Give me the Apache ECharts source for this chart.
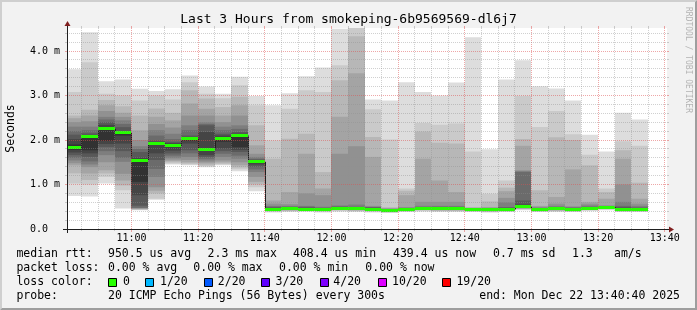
<!DOCTYPE html>
<html><head><meta charset="utf-8">
<script src="https://cdn.jsdelivr.net/npm/echarts@6/dist/echarts.min.js"></script>
<style>
html,body{margin:0;padding:0;background:#f2f2f2;overflow:hidden;}
#c{width:697px;height:310px;}
</style></head>
<body><div id="c"></div>
<script>
// ---------------- data ----------------
const titleText = 'Last 3 Hours from smokeping-6b9569569-dl6j7';
const viewStart = '10:40:40';
const viewEnd = '13:40:40';
const stepMinutes = 5;
const yMaxMs = 4.517;

const slots = ['10:40','10:45','10:50','10:55','11:00','11:05','11:10','11:15','11:20','11:25','11:30','11:35',
  '11:40','11:45','11:50','11:55','12:00','12:05','12:10','12:15','12:20','12:25','12:30','12:35',
  '12:40','12:45','12:50','12:55','13:00','13:05','13:10','13:15','13:20','13:25','13:30'];

// median rtt per slot (ms)
const median = [1.83,2.08,2.25,2.16,1.55,1.92,1.87,2.04,1.79,2.04,2.10,1.51,
  0.44,0.45,0.44,0.43,0.46,0.45,0.44,0.41,0.44,0.46,0.45,0.45,
  0.44,0.43,0.44,0.50,0.44,0.45,0.44,0.47,0.49,0.44,0.44];

// lost pings per slot (of 20)
const loss = [0,0,0,0,0,0,0,0,0,0,0,0,0,0,0,0,0,0,0,0,0,0,0,0,0,0,0,0,0,0,0,0,0,0,0];

// 20 sorted ping times per slot (ms)
const ping1040 = [0.74,1.02,1.25,1.43,1.48,1.54,1.60,1.66,1.72,1.78,1.90,2.02,2.12,2.20,2.30,2.40,2.49,2.55,3.08,3.59];
const ping1045 = [0.73,1.00,1.10,1.25,1.39,1.45,1.52,1.62,1.70,1.77,2.05,2.10,2.15,2.22,2.30,2.42,2.55,2.68,3.75,4.42];
const ping1050 = [1.02,1.17,1.25,1.32,1.50,1.66,1.75,1.84,1.91,1.98,2.28,2.34,2.40,2.46,2.52,2.65,2.78,2.90,3.04,3.32];
const ping1055 = [0.46,0.87,0.98,1.09,1.24,1.51,1.60,1.75,1.92,2.10,2.16,2.20,2.29,2.36,2.44,2.52,2.61,2.76,3.00,3.36];
const ping1100 = [0.42,0.43,0.44,0.45,0.46,0.47,0.48,0.52,0.76,1.06,1.56,1.60,1.73,1.80,1.86,2.00,2.22,2.55,2.89,3.15];
const ping1105 = [0.66,0.68,0.80,0.86,0.94,1.17,1.35,1.55,1.70,1.90,1.93,1.96,1.99,2.10,2.22,2.36,2.52,2.71,3.00,3.10];
const ping1110 = [1.45,1.47,1.50,1.53,1.56,1.60,1.65,1.70,1.76,1.84,1.90,1.93,1.96,2.02,2.14,2.28,2.44,2.61,2.91,3.14];
const ping1115 = [1.43,1.45,1.47,1.50,1.55,1.62,1.70,1.77,1.92,1.98,2.04,2.06,2.10,2.22,2.33,2.55,2.82,3.12,3.30,3.45];
const ping1120 = [1.39,1.41,1.43,1.47,1.50,1.54,1.58,1.62,1.66,1.78,1.82,2.18,2.33,2.36,2.40,2.55,2.70,2.93,3.04,3.20];
const ping1125 = [1.43,1.45,1.47,1.50,1.54,1.62,1.69,1.75,1.81,1.96,2.06,2.10,2.14,2.22,2.30,2.40,2.55,2.74,2.94,3.04];
const ping1130 = [1.30,1.34,1.38,1.43,1.50,1.58,1.65,1.73,1.78,1.84,2.12,2.14,2.18,2.25,2.33,2.55,2.78,2.97,3.23,3.42];
const ping1135 = [0.85,0.94,1.00,1.06,1.17,1.28,1.34,1.40,1.45,1.49,1.52,1.54,1.56,1.58,1.62,1.69,1.88,2.33,2.78,2.99];
const ping1140 = [0.37,0.39,0.40,0.41,0.42,0.42,0.43,0.43,0.44,0.44,0.45,0.47,0.48,0.50,0.52,0.57,0.64,1.58,1.99,2.78];
const ping1145 = [0.38,0.40,0.41,0.42,0.43,0.43,0.44,0.44,0.45,0.45,0.46,0.47,0.49,0.50,0.52,0.56,0.83,2.03,2.70,3.05];
const ping1150 = [0.39,0.40,0.41,0.42,0.42,0.43,0.43,0.44,0.44,0.44,0.45,0.47,0.48,0.50,0.52,0.80,1.69,2.14,3.12,3.43];
const ping1155 = [0.37,0.39,0.40,0.41,0.41,0.42,0.42,0.43,0.43,0.43,0.44,0.46,0.47,0.48,0.50,0.76,0.91,1.28,3.08,3.63];
const ping1200 = [0.39,0.41,0.42,0.43,0.44,0.44,0.45,0.45,0.46,0.46,0.47,0.48,0.49,0.51,0.53,1.69,2.52,3.34,3.68,4.50];
const ping1205 = [0.38,0.40,0.41,0.42,0.43,0.43,0.44,0.44,0.45,0.45,0.46,0.47,0.48,0.50,0.55,1.86,3.50,4.33,4.55,4.60];
const ping1210 = [0.37,0.39,0.40,0.41,0.42,0.43,0.43,0.44,0.44,0.44,0.45,0.47,0.48,0.49,0.50,0.52,1.62,2.07,2.69,2.91];
const ping1215 = [0.36,0.37,0.38,0.39,0.39,0.40,0.40,0.41,0.41,0.41,0.42,0.43,0.44,0.44,0.45,0.46,0.47,0.49,2.01,2.89];
const ping1220 = [0.38,0.39,0.40,0.41,0.42,0.42,0.43,0.43,0.44,0.44,0.45,0.45,0.46,0.47,0.48,0.49,0.76,0.86,0.91,3.30];
const ping1225 = [0.39,0.41,0.42,0.43,0.44,0.44,0.45,0.45,0.46,0.46,0.47,0.47,0.48,0.49,0.52,0.61,1.58,2.19,2.38,3.08];
const ping1230 = [0.38,0.40,0.41,0.42,0.43,0.43,0.44,0.44,0.45,0.45,0.46,0.47,0.49,0.50,0.52,0.61,1.09,1.94,2.34,3.00];
const ping1235 = [0.38,0.40,0.41,0.42,0.43,0.43,0.44,0.44,0.45,0.45,0.46,0.47,0.48,0.50,0.52,0.61,0.83,1.92,2.37,3.29];
const ping1240 = [0.38,0.39,0.40,0.41,0.42,0.42,0.43,0.43,0.44,0.44,0.44,0.45,0.45,0.46,0.46,0.47,0.48,0.49,1.74,4.31];
const ping1245 = [0.37,0.38,0.39,0.40,0.41,0.41,0.42,0.42,0.43,0.43,0.44,0.45,0.45,0.46,0.47,0.48,0.49,0.62,0.79,1.79];
const ping1250 = [0.38,0.39,0.40,0.41,0.42,0.42,0.43,0.43,0.44,0.44,0.45,0.47,0.48,0.49,0.60,0.70,0.85,0.93,1.09,3.36];
const ping1255 = [0.42,0.44,0.45,0.46,0.47,0.47,0.48,0.49,0.49,0.50,0.51,0.55,0.64,1.28,1.30,1.32,1.87,2.02,2.99,3.79];
const ping1300 = [0.38,0.39,0.40,0.41,0.42,0.42,0.43,0.43,0.44,0.44,0.44,0.45,0.46,0.47,0.48,0.50,0.52,0.87,2.29,3.21];
const ping1305 = [0.38,0.40,0.41,0.42,0.43,0.43,0.44,0.44,0.45,0.45,0.46,0.47,0.48,0.49,0.52,0.57,0.72,2.06,2.65,3.16];
const ping1310 = [0.38,0.39,0.40,0.41,0.42,0.42,0.43,0.43,0.44,0.44,0.45,0.46,0.47,0.48,0.49,0.51,1.34,2.00,2.13,2.89];
const ping1315 = [0.40,0.42,0.43,0.44,0.45,0.45,0.46,0.46,0.47,0.47,0.47,0.48,0.49,0.50,0.53,0.57,0.61,1.43,1.67,2.12];
const ping1320 = [0.42,0.44,0.45,0.46,0.47,0.47,0.48,0.48,0.49,0.49,0.49,0.50,0.50,0.51,0.52,0.53,0.68,0.83,0.91,1.74];
const ping1325 = [0.38,0.39,0.40,0.41,0.42,0.42,0.43,0.43,0.44,0.44,0.45,0.47,0.49,0.52,0.61,1.00,1.58,1.77,1.97,2.61];
const ping1330 = [0.38,0.39,0.40,0.41,0.42,0.42,0.43,0.43,0.44,0.44,0.45,0.46,0.47,0.49,0.52,0.57,0.68,1.04,1.87,2.46];

const smokeColumns = [ping1040,ping1045,ping1050,ping1055,ping1100,ping1105,ping1110,ping1115,ping1120,ping1125,ping1130,ping1135,
  ping1140,ping1145,ping1150,ping1155,ping1200,ping1205,ping1210,ping1215,ping1220,ping1225,ping1230,ping1235,
  ping1240,ping1245,ping1250,ping1255,ping1300,ping1305,ping1310,ping1315,ping1320,ping1325,ping1330];

// tick labels
const xTickLabels = ['11:00','11:20','11:40','12:00','12:20','12:40','13:00','13:20','13:40'];
const yTickValues = [0,1,2,3,4];
const yTickLabels = ['0.0','1.0 m','2.0 m','3.0 m','4.0 m'];

// legend texts
const legendRtt = ['median rtt:','950.5 us avg','2.3 ms max','408.4 us min','439.4 us now','0.7 ms sd','1.3','am/s'];
const legendLoss = ['packet loss:','0.00 % avg','0.00 % max','0.00 % min','0.00 % now'];
const lossLegendLabels = ['0','1/20','2/20','3/20','4/20','10/20','19/20'];
const lossLegendThresh = [0,1,2,3,4,10,19];
const lossLegendColors = ['#26ff00','#00b8ff','#0059ff','#5e00ff','#7e00ff','#dd00ff','#ff0000'];
const probeText = '20 ICMP Echo Pings (56 Bytes) every 300s';
const endText = 'end: Mon Dec 22 13:40:40 2025';

// ---------------- rendering ----------------
function toMin(s){ const p = s.split(':').map(Number); return p[0]*60 + p[1] + (p[2]||0)/60; }
const X_MIN = toMin(viewStart), X_MAX = toMin(viewEnd);
const SHADES = [221,202,183,164,145,126,107,88,69,50].map(v => 'rgb('+v+','+v+','+v+')');
const MONO = '"DejaVu Sans Mono", "Liberation Mono", monospace';
const GRID_C = 'rgba(143,143,143,0.42)';
const MGRID_C = 'rgba(222,79,79,0.5)';
const AXIS_C = '#1f1f1f';
const ARROW_C = '#801f1f';

function lossColor(l){
  let c = lossLegendColors[0];
  for (let k = 0; k < lossLegendThresh.length; k++) if (l >= lossLegendThresh[k]) c = lossLegendColors[k];
  return c;
}

function renderSmoke(params, api){
  const i = params.dataIndex;
  const pings = smokeColumns[i];
  const t0 = api.value(0), t1 = api.value(1);
  const xa = Math.round(api.coord([t0, 0])[0]);
  const xb = Math.round(api.coord([t1, 0])[0]);
  const w = xb - xa;
  const ch = [];
  for (let k = 0; k < 10; k++){
    const lo = api.coord([t0, pings[k]])[1];
    const hi = api.coord([t0, pings[19-k]])[1];
    ch.push({type:'rect', shape:{x:xa, y:hi, width:w, height:lo-hi}, style:{fill:SHADES[k]}});
  }
  const ym = api.coord([t0, median[i]])[1];
  if (i > 0){
    const yp = api.coord([t0, median[i-1]])[1];
    ch.push({type:'line', shape:{x1:xa+0.5, y1:yp, x2:xa+0.5, y2:ym}, style:{stroke:'#202020', lineWidth:1}});
  }
  ch.push({type:'rect', shape:{x:xa, y:Math.round(ym-1.5), width:w, height:3}, style:{fill:lossColor(loss[i])}});
  return {type:'group', children:ch};
}

function txt(text, x, y, size, align, extra){
  return Object.assign({type:'text', style:{text:text, x:x, y:y, font:size+'px '+MONO, fill:'#000',
    align:align||'left', textAlign:align||'left', verticalAlign:'middle', textVerticalAlign:'middle'}}, extra||{});
}

function renderGrid(params, api){
  const ch = [];
  const pa = api.coord([X_MIN, 0]), pb = api.coord([X_MAX, yMaxMs]);
  const X0 = Math.round(pa[0]), X1 = Math.round(pb[0]);
  const Y0 = Math.round(pa[1]), Y1 = Math.round(pb[1]);
  // vertical grid
  const majorX = xTickLabels.map(toMin);
  for (let m = Math.ceil(X_MIN/stepMinutes)*stepMinutes; m <= X_MAX; m += stepMinutes){
    const x = Math.floor(api.coord([m, 0])[0]) + 0.5;
    const major = majorX.indexOf(m) >= 0;
    const c = major ? MGRID_C : GRID_C;
    ch.push({type:'line', shape:{x1:x, y1:Y1, x2:x, y2:Y0}, style:{stroke:c, lineWidth:1, lineDash:[1,1]}});
    ch.push({type:'line', shape:{x1:x, y1:Y1-2, x2:x, y2:Y1}, style:{stroke:c, lineWidth:1}});
    ch.push({type:'line', shape:{x1:x, y1:Y0, x2:x, y2:Y0+(major?3:2)}, style:{stroke:c, lineWidth:1}});
  }
  xTickLabels.forEach(l => {
    const x = api.coord([toMin(l), 0])[0];
    ch.push(txt(l, x, Y0 + 9.5, 10, 'center'));
  });
  // horizontal grid
  for (let k = 1; k * 0.2 <= yMaxMs; k++){
    const v = k * 0.2;
    const y = Math.floor(api.coord([X_MIN, v])[1]) + 0.5;
    const major = (k % 5) === 0;
    const c = major ? MGRID_C : GRID_C;
    ch.push({type:'line', shape:{x1:X0, y1:y, x2:X1, y2:y}, style:{stroke:c, lineWidth:1, lineDash:[1,1]}});
    ch.push({type:'line', shape:{x1:X0-2, y1:y, x2:X0, y2:y}, style:{stroke:c, lineWidth:1}});
    ch.push({type:'line', shape:{x1:X1, y1:y, x2:X1+2, y2:y}, style:{stroke:c, lineWidth:1}});
  }
  yTickValues.forEach((v, k) => {
    const y = api.coord([X_MIN, v])[1];
    ch.push(txt(yTickLabels[k], 30, y, 10, 'left'));
  });
  // axes
  ch.push({type:'line', shape:{x1:X0-4, y1:Y0+0.5, x2:X1+4, y2:Y0+0.5}, style:{stroke:AXIS_C, lineWidth:1}});
  ch.push({type:'line', shape:{x1:X0+0.5, y1:Y0+4, x2:X0+0.5, y2:Y1-4}, style:{stroke:AXIS_C, lineWidth:1}});
  ch.push({type:'polygon', shape:{points:[[X1+2, Y0-2.5],[X1+2, Y0+3.5],[X1+7, Y0+0.5]]}, style:{fill:ARROW_C}});
  ch.push({type:'polygon', shape:{points:[[X0-2.5, Y1-2],[X0+3.5, Y1-2],[X0+0.5, Y1-7]]}, style:{fill:ARROW_C}});
  return {type:'group', children:ch};
}

const smokeData = slots.map((s, i) => [toMin(s), toMin(s) + stepMinutes, median[i]]);

// legend graphics
const G = [];
G.push({type:'polygon', shape:{points:[[0,0],[697,0],[695,2],[2,2],[2,308],[0,310]]}, style:{fill:'#cfcfcf'}, z:100});
G.push({type:'polygon', shape:{points:[[0,310],[697,310],[697,0],[695,2],[695,308],[2,308]]}, style:{fill:'#9e9e9e'}, z:100});
G.push(txt(titleText, 348.5, 20, 13, 'center'));
G.push(txt('Seconds', 11.5, 128.5, 11.5, 'center', {x:0, y:0}));
G[G.length-1] = {type:'text', x:11.5, y:128.5, rotation:Math.PI/2,
  style:{text:'Seconds', font:'11.5px '+MONO, fill:'#000', align:'center', textAlign:'center', verticalAlign:'middle', textVerticalAlign:'middle'}};
G.push({type:'text', x:688, y:60, rotation:-Math.PI/2,
  style:{text:'RRDTOOL / TOBI OETIKER', font:'8px '+MONO, fill:'#b4b4b4', align:'center', textAlign:'center', verticalAlign:'middle', textVerticalAlign:'middle'}});
const rttX = [16.4,108,207.6,293,393,493,572,614];
legendRtt.forEach((t,k) => G.push(txt(t, rttX[k], 254, 11.5, 'left')));
const lossX = [16.4,108,193.3,279,365.3];
legendLoss.forEach((t,k) => G.push(txt(t, lossX[k], 268.3, 11.5, 'left')));
G.push(txt('loss color:', 16.4, 282.3, 11.5, 'left'));
const boxX = [108,145.3,203.6,261.3,319.6,377.8,442];
const labX = [123,160,217.8,275.6,333.3,392,456.4];
lossLegendLabels.forEach((t,k) => {
  G.push({type:'rect', shape:{x:Math.round(boxX[k])+0.5, y:278.5, width:8, height:8}, style:{fill:lossLegendColors[k], stroke:'#000', lineWidth:1}});
  G.push(txt(t, labX[k], 282.3, 11.5, 'left'));
});
G.push(txt('probe:', 16.4, 296.3, 11.5, 'left'));
G.push(txt(probeText, 108, 296.3, 11.5, 'left'));
G.push(txt(endText, 680, 296.3, 11.5, 'right'));

const chart = echarts.init(document.getElementById('c'), null, {renderer:'canvas'});
chart.setOption({
  animation:false,
  backgroundColor:'#f2f2f2',
  grid:{left:67, top:28, width:600, height:201, show:true, backgroundColor:'#ffffff', borderWidth:0},
  xAxis:{type:'value', min:X_MIN, max:X_MAX, show:false},
  yAxis:{type:'value', min:0, max:yMaxMs, show:false},
  series:[
    {type:'custom', name:'smoke', coordinateSystem:'cartesian2d', renderItem:renderSmoke, data:smokeData,
      encode:{x:[0,1], y:2}, clip:true, silent:true, z:2},
    {type:'custom', name:'grid', coordinateSystem:'cartesian2d', renderItem:renderGrid, data:[[X_MIN,0]],
      encode:{x:0, y:1}, clip:false, silent:true, z:5}
  ],
  graphic:{elements:G}
});
</script>
</body></html>
